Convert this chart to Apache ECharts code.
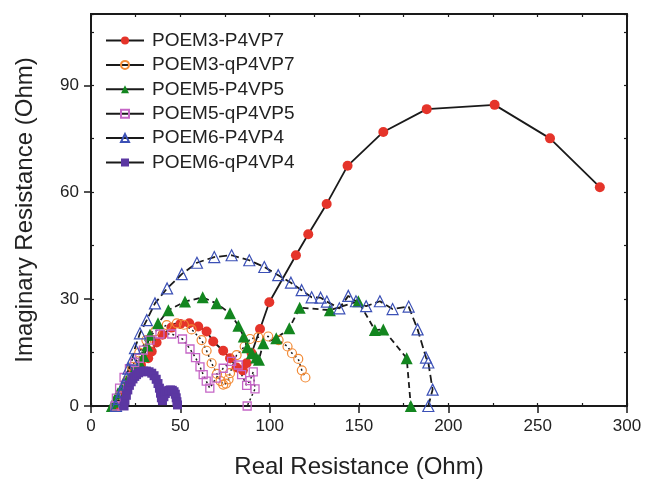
<!DOCTYPE html>
<html>
<head>
<meta charset="utf-8">
<script src="https://cdn.jsdelivr.net/npm/echarts@6/dist/echarts.min.js"></script>
<style>
html, body { margin: 0; padding: 0; background: #fff; }
#main { width: 646px; height: 484px; }
</style>
</head>
<body>
<div id="main"></div>
<script>
// series names (legend order)
var seriesNames = ['POEM3-P4VP7', 'POEM3-qP4VP7', 'POEM5-P4VP5', 'POEM5-qP4VP5', 'POEM6-P4VP4', 'POEM6-qP4VP4'];

// [real, imaginary] in Ohm
var poem3P4vp7 = [[15, 0], [17, 3], [20, 6.5], [24, 9.5], [28, 11.5], [32, 13.4], [34, 15.3], [36.7, 17.8], [40, 20], [45, 22], [50, 23], [55, 23.2],
    [60, 22.3], [64.7, 20.9], [68.4, 18.1], [74, 15.5], [77.8, 13.4], [81.5, 10.8], [85, 10], [87.1, 12], [89.9, 14.8], [94.6, 21.6],
    [99.8, 29.1], [114.7, 42.3], [121.6, 48.2], [131.9, 56.7], [143.6, 67.4], [163.6, 76.9], [187.9, 83.3], [225.9, 84.5], [256.9, 75.1], [284.8, 61.4]];
var poem3qP4vp7 = [[15, 0], [17, 3], [20, 7], [23, 11], [27, 15], [31, 18.5], [36, 21], [42.4, 22.7], [48, 23.2], [52, 22.8], [56.3, 21.5],
    [61.9, 18.5], [64.7, 15.5], [67.5, 12], [70.5, 9], [72.5, 7], [74, 6], [75.5, 6.3], [77, 7.5], [77.8, 9.2], [81.5, 14.3], [86, 16.7],
    [89, 18.8], [93.6, 19.3], [99.2, 19.5], [105, 18.5], [110, 16.7], [112.5, 14.8], [116, 13.2], [118, 10], [120, 8]];
var poem5P4vp5 = [[11.7, 0], [13, 1.2], [15, 3.5], [18, 6], [21, 8], [24, 10], [27.4, 12], [29.5, 14], [31.5, 17], [33, 20], [37.5, 23.2],
    [43.3, 26.9], [52.6, 29.3], [62.5, 30.5], [70.3, 28.8], [77.8, 26], [82.5, 22.5], [85.5, 19.5], [87.5, 16.5], [90, 14.8], [92.5, 13.6],
    [94, 13], [96.4, 17.6], [103.7, 19], [111, 21.8], [116.8, 27.6], [133.7, 26.9], [149.6, 29.4], [158.9, 21.3], [163.6, 21.5], [176.7, 13.4], [179, 0]];
var poem5qP4vp5 = [[13.4, 0], [14.2, 2.2], [16, 5], [18.5, 8], [21.5, 10.5], [24.5, 12.2], [27, 13.4], [29.3, 15.7], [33, 18.5], [38.6, 20.2],
    [45.2, 20.2], [51.2, 18.8], [55.4, 16], [58.5, 13.6], [61, 11], [62.8, 8.8], [64.5, 7], [66.5, 5], [70, 7.8], [74, 10.6], [78.7, 12.5],
    [82.4, 11.5], [84.3, 8.8], [87.1, 5.8], [89, 7.1], [90.8, 9.6], [91.8, 4.8], [87.4, 0]];
var poem6P4vp4 = [[14, 0], [15.5, 2], [17, 4], [18.5, 6], [20, 8], [21, 10.5], [23, 13], [24.6, 16.2], [27.4, 20.4], [31.2, 24.1], [35.8, 28.8],
    [42.6, 33], [50.8, 37], [59.3, 40.2], [69, 41.8], [78.7, 42.3], [88.6, 40.9], [97, 39], [104.8, 36.7], [111.9, 34.6], [117.9, 32.5],
    [123.5, 30.5], [128.5, 30.4], [132, 29.3], [139, 27.4], [144, 30.9], [148.3, 29.4], [154, 28], [161.7, 29.4], [168.8, 27.2], [177.8, 27.9],
    [182.8, 21.5], [187.5, 13.6], [188.8, 12.2], [191.2, 4.6], [188.8, 0]];
var poem6qP4vp4 = [[18.5, 0], [19, 1.5], [19.8, 3], [20.6, 4.5], [21.5, 5.8], [22.5, 6.8], [23.5, 7.6], [24.5, 8.3], [25.5, 8.8], [26.7, 9.3],
    [28, 9.6], [29.5, 9.8], [31, 9.8], [32.5, 9.6], [34, 9.2], [35.3, 8.5], [36.5, 7.5], [37.5, 6.3], [38.3, 5], [38.9, 3.6], [39.4, 2.3],
    [40, 1.5], [40.8, 2.6], [41.6, 3.5], [42.5, 4.1], [43.5, 4.4], [44.5, 4.5], [45.5, 4.4], [46.5, 4], [47.2, 3.3], [47.7, 2.3], [48.1, 1.2], [48.4, 0.3]];

var font = 'Liberation Sans, Arial, Helvetica, sans-serif';
var ink = '#1a1a1a';

var myChart = echarts.init(document.getElementById('main'));

// plain frame axis (top / right / minor ticks), ticks pointing in
function frameAxis(extra) {
    var base = {
        type: 'value',
        axisLine: { show: true, onZero: false, lineStyle: { color: ink, width: 2 } },
        axisTick: { show: true, inside: true, length: 3, lineStyle: { color: ink, width: 1.2 } },
        axisLabel: { show: false },
        splitLine: { show: false }
    };
    return Object.assign(base, extra);
}

var option = {
    animation: false,
    backgroundColor: '#fff',
    textStyle: { fontFamily: font },
    grid: { left: 91, right: 19, top: 14, bottom: 76, containLabel: false },
    legend: {
        data: seriesNames,
        orient: 'vertical',
        left: 105,
        top: 31,
        padding: 0,
        itemWidth: 38,
        itemHeight: 10,
        itemGap: 5.4,
        lineStyle: { type: 'solid', width: 2, color: ink },
        textStyle: { fontSize: 19, color: '#222', lineHeight: 18, fontFamily: font, padding: [0, 0, 0, 3] }
    },
    xAxis: [
        {
            type: 'value', min: 0, max: 300, interval: 50, position: 'bottom',
            axisLine: { onZero: false, lineStyle: { color: ink, width: 2 } },
            axisTick: { show: true, length: 7, lineStyle: { color: ink, width: 1.5 } },
            splitLine: { show: false },
            axisLabel: { fontSize: 17, color: '#222', margin: 12, fontFamily: font },
            name: 'Real Resistance (Ohm)', nameLocation: 'middle', nameGap: 49,
            nameTextStyle: { fontSize: 24, color: '#222', fontFamily: font }
        },
        frameAxis({ min: 0, max: 300, interval: 25, position: 'bottom' }),
        frameAxis({ min: 0, max: 300, interval: 25, position: 'top' })
    ],
    yAxis: [
        {
            type: 'value', min: 0, max: 110, interval: 30, position: 'left',
            axisLine: { onZero: false, lineStyle: { color: ink, width: 2 } },
            axisTick: { show: true, length: 7, lineStyle: { color: ink, width: 1.5 } },
            splitLine: { show: false },
            axisLabel: { fontSize: 17, color: '#222', margin: 12, showMaxLabel: false, fontFamily: font },
            name: 'Imaginary Resistance (Ohm)', nameLocation: 'middle', nameGap: 54,
            nameTextStyle: { fontSize: 24, color: '#222', fontFamily: font }
        },
        frameAxis({ min: 0, max: 110, interval: 15, position: 'left' }),
        frameAxis({ min: 0, max: 110, interval: 15, position: 'right' })
    ],
    series: [
        {
            name: seriesNames[0], type: 'line', data: poem3P4vp7,
            symbol: 'circle', symbolSize: 10,
            itemStyle: { color: '#e5342a' },
            lineStyle: { color: ink, width: 1.8, type: 'solid' }
        },
        {
            name: seriesNames[1], type: 'line', data: poem3qP4vp7,
            symbol: 'circle', symbolSize: 9,
            itemStyle: { color: 'rgba(255,255,255,0)', borderColor: '#f28a35', borderWidth: 1.2 },
            lineStyle: { color: ink, width: 1.5, type: [2, 3] }
        },
        {
            name: seriesNames[2], type: 'line', data: poem5P4vp5,
            symbol: 'triangle', symbolSize: 12,
            itemStyle: { color: '#13861f' },
            lineStyle: { color: ink, width: 1.8, type: [6, 4] }
        },
        {
            name: seriesNames[3], type: 'line', data: poem5qP4vp5,
            symbol: 'rect', symbolSize: 8,
            itemStyle: { color: 'rgba(255,255,255,0)', borderColor: '#c566c6', borderWidth: 1.3 },
            lineStyle: { color: ink, width: 1.5, type: [2, 3] }
        },
        {
            name: seriesNames[4], type: 'line', data: poem6P4vp4,
            symbol: 'triangle', symbolSize: 11,
            itemStyle: { color: 'rgba(255,255,255,0)', borderColor: '#3b50b6', borderWidth: 1.2 },
            lineStyle: { color: ink, width: 1.8, type: [8, 4] }
        },
        {
            name: seriesNames[5], type: 'line', data: poem6qP4vp4,
            symbol: 'rect', symbolSize: 9,
            itemStyle: { color: '#5b37a2' },
            lineStyle: { color: ink, width: 1.5, type: 'solid' }
        }
    ]
};
myChart.setOption(option);
</script>
</body>
</html>
